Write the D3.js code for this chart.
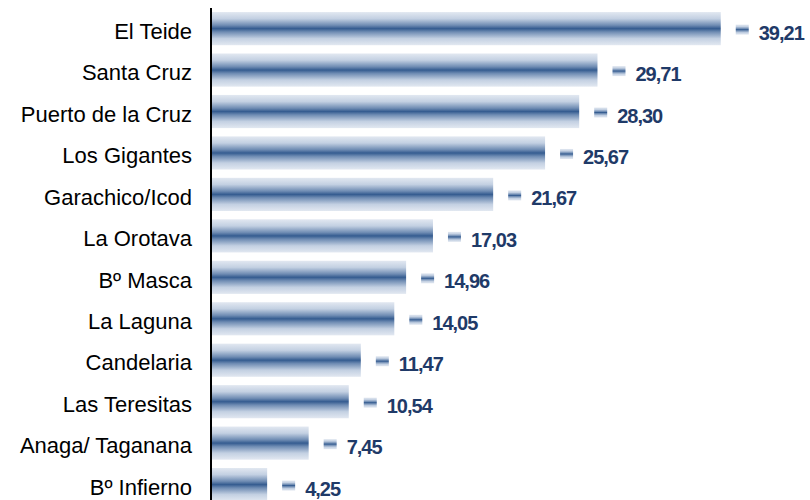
<!DOCTYPE html>
<meta charset="utf-8">
<head>
<style>
  body { margin: 0; background: #fff; }
  .cat text { font: 22px "Liberation Sans", Arial, sans-serif; fill: #000; }
  .val { font: bold 20px "Liberation Sans", Arial, sans-serif; fill: #1f3a68; letter-spacing: -1px; }
</style>
</head>
<body>
<script src="https://d3js.org/d3.v7.min.js"></script>
<script>
var categories = ["El Teide", "Santa Cruz", "Puerto de la Cruz", "Los Gigantes", "Garachico/Icod",
                  "La Orotava", "Bº Masca", "La Laguna", "Candelaria", "Las Teresitas",
                  "Anaga/ Taganana", "Bº Infierno"];
var values = [39.21, 29.71, 28.30, 25.67, 21.67, 17.03, 14.96, 14.05, 11.47, 10.54, 7.45, 4.25];

var width = 810, height = 500;
var x0 = 212;

var svg = d3.select("body").append("svg")
    .attr("width", width)
    .attr("height", height);

// vertical gradient used by bars and the little key marks
var grad = svg.append("defs").append("linearGradient")
    .attr("id", "barGrad")
    .attr("x1", 0).attr("y1", 0).attr("x2", 0).attr("y2", 1);
[[0, "#e2e8f1"], [0.2, "#c3d0e2"], [0.4, "#6f8cb3"], [0.5, "#355c90"],
 [0.6, "#6f8cb3"], [0.8, "#c3d0e2"], [1, "#e2e8f1"]].forEach(function(s) {
  grad.append("stop").attr("offset", s[0]).attr("stop-color", s[1]);
});

var x = d3.scaleLinear().domain([0, 40]).range([x0, x0 + 519]);
var y = d3.scaleBand()
    .domain(categories)
    .range([7.9, 7.9 + 12 * 41.45])
    .paddingInner(0.2)
    .paddingOuter(0.1);

var data = categories.map(function(c, i) { return {cat: c, value: values[i]}; });

svg.selectAll(".bar")
    .data(data)
  .enter().append("rect")
    .attr("class", "bar")
    .attr("x", x(0))
    .attr("y", function(d) { return y(d.cat); })
    .attr("width", function(d) { return x(d.value) - x(0); })
    .attr("height", y.bandwidth())
    .style("fill", "url(#barGrad)");

// small key marks before the value labels
svg.selectAll(".mark")
    .data(data)
  .enter().append("rect")
    .attr("class", "mark")
    .attr("x", function(d) { return x(d.value) + 15; })
    .attr("y", function(d) { return y(d.cat) + y.bandwidth() / 2 - 4; })
    .attr("width", 13)
    .attr("height", 10)
    .style("fill", "url(#barGrad)");

svg.selectAll(".val")
    .data(data)
  .enter().append("text")
    .attr("class", "val")
    .attr("x", function(d) { return x(d.value) + 38; })
    .attr("y", function(d) { return y(d.cat) + y.bandwidth() / 2 + 4; })
    .attr("dy", "0.35em")
    .text(function(d) { return d3.format(".2f")(d.value).replace(".", ","); });

var yAxis = d3.axisLeft(y).tickSize(0).tickPadding(19);

svg.append("g")
    .attr("class", "cat")
    .attr("transform", "translate(211,0)")
    .call(yAxis)
    .call(function(g) {
      g.select(".domain").attr("stroke", "#000").attr("stroke-width", 2)
        .attr("d", "M0," + y.range()[0] + "V" + height);
      g.selectAll("text").attr("dy", "0.35em").attr("y", 2.5);
    });
</script>
</body>
